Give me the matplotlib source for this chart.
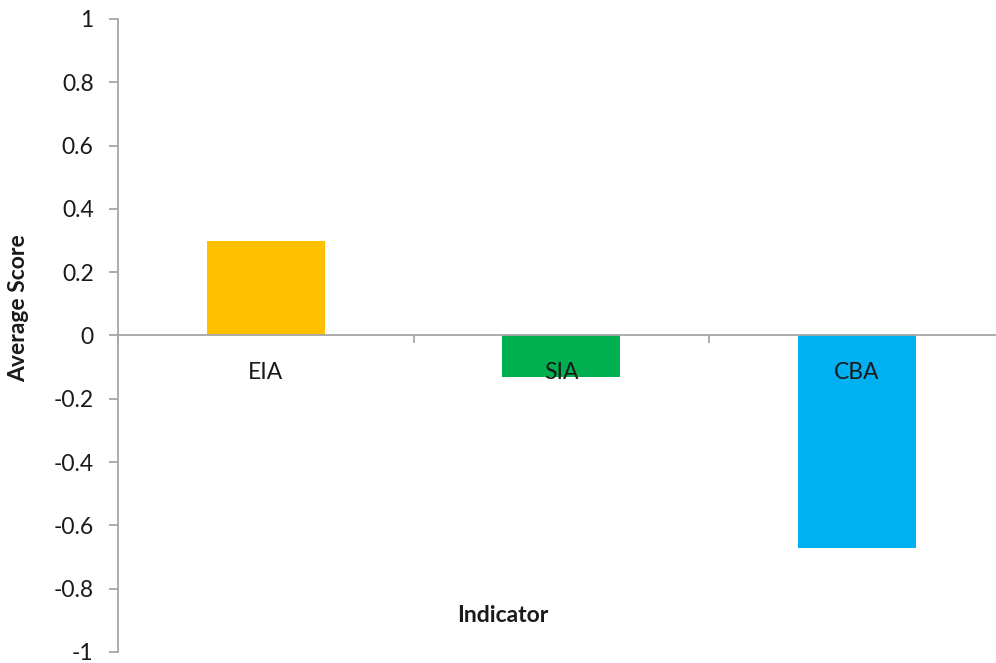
import matplotlib
matplotlib.use("Agg")
import matplotlib.pyplot as plt

categories = ["EIA", "SIA", "CBA"]
scores = [0.30, -0.13, -0.67]
colors = ["#FFC000", "#00B050", "#00B0F0"]
ytick_values = [1, 0.8, 0.6, 0.4, 0.2, 0, -0.2, -0.4, -0.6, -0.8, -1]
ytick_labels = ["1", "0.8", "0.6", "0.4", "0.2", "0", "-0.2", "-0.4", "-0.6", "-0.8", "-1"]

plt.rcParams['font.family'] = ['Lato', 'DejaVu Sans']
W, H = 996, 663
fig = plt.figure(figsize=(W/100, H/100), dpi=100)
left, right = 118, 1004.5
top, bottom = 19, 652
ax = fig.add_axes([left/W, 1 - bottom/H, (right-left)/W, (bottom-top)/H])

x = list(range(len(categories)))
ax.bar(x, scores, width=0.4, color=colors, zorder=2)
ax.set_xlim(-0.5, len(categories) - 0.5)
ax.set_ylim(-1, 1)

gray = "#A6A6A6"
for s in ["top", "right"]:
    ax.spines[s].set_visible(False)
ax.spines["left"].set_color(gray)
ax.spines["left"].set_linewidth(1.3)
ax.spines["bottom"].set_position(("data", 0))
ax.spines["bottom"].set_color(gray)
ax.spines["bottom"].set_linewidth(1.3)
ax.spines["bottom"].set_zorder(3)

ax.set_yticks(ytick_values)
ax.set_yticklabels(ytick_labels, fontsize=16.5, color="#1a1a1a")
ax.tick_params(axis="y", direction="out", length=6.5, width=1.3, color=gray, pad=11)

bounds = [i - 0.5 for i in range(len(categories) + 1)]
ax.set_xticks(bounds)
ax.set_xticklabels([""] * len(bounds))
ax.tick_params(axis="x", which="major", direction="out", length=5.5, width=1.3, color=gray)

for xi, name in zip(x, categories):
    ax.annotate(name, (xi, 0), xytext=(0, -26.5), textcoords="offset points",
                ha="center", va="center", fontsize=16.5, color="#1a1a1a", zorder=5)

fig.text(503/W, 1 - 615/H, "Indicator", fontsize=16.5, fontweight="bold",
         ha="center", va="center", color="#1a1a1a")
fig.text(19/W, 1 - 308/H, "Average Score", fontsize=16.5, fontweight="bold",
         ha="center", va="center", rotation=90, color="#1a1a1a")

fig.savefig("out.png", dpi=100)
